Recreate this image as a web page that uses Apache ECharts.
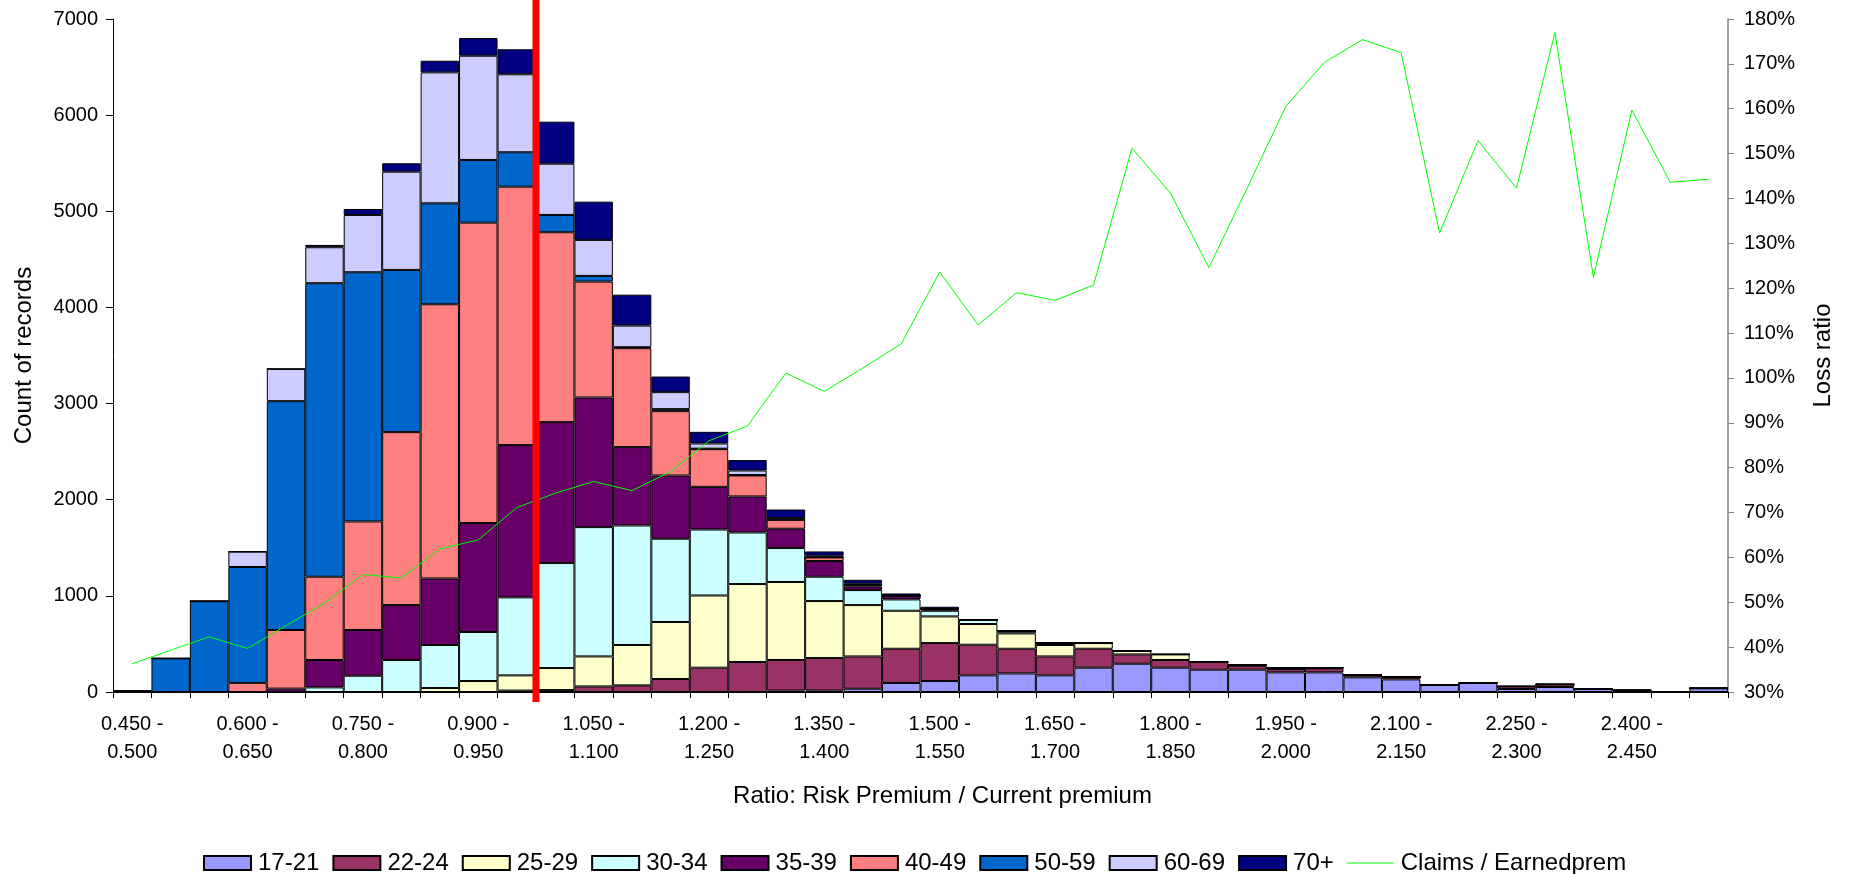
<!DOCTYPE html>
<html>
<head>
<meta charset="utf-8">
<script src="https://cdn.jsdelivr.net/npm/echarts@6/dist/echarts.min.js"></script>
<style>
html,body{margin:0;padding:0;background:#fff;}
#chart{width:1851px;height:874px;}
</style>
</head>
<body>
<div id="chart"></div>
<script>
const categories = [
  '0.450 -\n0.500','0.500 -\n0.550','0.550 -\n0.600','0.600 -\n0.650','0.650 -\n0.700','0.700 -\n0.750',
  '0.750 -\n0.800','0.800 -\n0.850','0.850 -\n0.900','0.900 -\n0.950','0.950 -\n1.000','1.000 -\n1.050',
  '1.050 -\n1.100','1.100 -\n1.150','1.150 -\n1.200','1.200 -\n1.250','1.250 -\n1.300','1.300 -\n1.350',
  '1.350 -\n1.400','1.400 -\n1.450','1.450 -\n1.500','1.500 -\n1.550','1.550 -\n1.600','1.600 -\n1.650',
  '1.650 -\n1.700','1.700 -\n1.750','1.750 -\n1.800','1.800 -\n1.850','1.850 -\n1.900','1.900 -\n1.950',
  '1.950 -\n2.000','2.000 -\n2.050','2.050 -\n2.100','2.100 -\n2.150','2.150 -\n2.200','2.200 -\n2.250',
  '2.250 -\n2.300','2.300 -\n2.350','2.350 -\n2.400','2.400 -\n2.450','2.450 -\n2.500','2.500 -\n2.550'
];

const age17_21 = [0,0,0,0,0,0,0,0,0,0,0,0,0,0,0,0,0,15,15,34,94,114,173,193,173,253,294,253,232,232,204,204,152,131,73,94,31,52,34,17,0,38];
const age22_24 = [0,0,0,0,0,0,0,0,0,0,15,20,58,69,135,253,312,318,338,336,356,395,319,257,197,197,97,80,80,41,35,42,28,25,0,0,27,27,0,0,0,0];
const age25_29 = [0,0,0,0,0,0,0,0,41,114,158,229,312,420,593,751,811,811,593,534,395,277,215,159,119,59,38,58,0,8,10,8,0,0,0,0,0,0,0,0,0,0];
const age30_34 = [0,0,0,0,0,48,169,333,448,510,811,1092,1345,1243,866,686,536,353,253,156,118,59,42,20,20,0,0,0,0,0,0,0,0,0,0,0,0,0,0,0,0,0];
const age35_39 = [0,0,0,0,35,285,476,571,692,1133,1584,1466,1348,815,658,444,375,201,163,38,38,18,0,8,0,0,0,0,0,0,0,0,0,0,0,0,0,0,0,0,0,0];
const age40_49 = [0,0,0,95,610,866,1129,1799,2852,3125,2688,1975,1206,1029,669,392,218,93,38,17,0,0,0,0,0,0,0,0,0,0,0,0,0,0,0,0,0,0,0,0,0,0];
const age50_59 = [15,350,945,1205,2380,3053,2592,1687,1050,652,358,180,59,10,21,5,5,0,0,0,0,0,0,0,0,0,0,0,0,0,0,0,0,0,0,0,0,0,0,0,0,0];
const age60_69 = [0,0,0,160,336,374,596,1022,1362,1084,811,533,374,225,177,54,47,18,17,12,0,0,0,0,0,0,0,0,0,0,0,0,0,0,0,0,0,0,0,0,0,0];
const age70p   = [0,0,0,0,0,24,62,87,121,184,260,437,398,322,162,121,108,89,45,40,24,24,0,0,0,0,0,0,0,0,0,0,0,0,0,0,0,0,0,0,0,0];

const lossRatio = [0.363,0.393,0.423,0.397,0.448,0.498,0.562,0.554,0.619,0.639,0.711,0.743,0.769,0.749,0.791,0.860,0.893,1.011,0.970,1.022,1.076,1.236,1.118,1.190,1.173,1.207,1.512,1.412,1.246,1.424,1.605,1.703,1.754,1.725,1.323,1.529,1.423,1.770,1.224,1.597,1.436,1.443];

const thresholdRatio = [1.0];
const ratioRange = [0.45, 2.55];

const countTicks = {min: 0, max: 7000, interval: 1000};
const ratioTicks = {min: 0.3, max: 1.8, interval: 0.1};

const barSeriesDefs = [
  {name: '17-21', data: age17_21, color: '#9999FF'},
  {name: '22-24', data: age22_24, color: '#993366'},
  {name: '25-29', data: age25_29, color: '#FFFFCC'},
  {name: '30-34', data: age30_34, color: '#CCFFFF'},
  {name: '35-39', data: age35_39, color: '#660066'},
  {name: '40-49', data: age40_49, color: '#FF8080'},
  {name: '50-59', data: age50_59, color: '#0066CC'},
  {name: '60-69', data: age60_69, color: '#CCCCFF'},
  {name: '70+',   data: age70p,   color: '#000080'}
];
const lineName = 'Claims / Earnedprem';

const FONT = '"Liberation Sans", Arial, sans-serif';

const chart = echarts.init(document.getElementById('chart'), null, {renderer: 'canvas'});

const series = barSeriesDefs.map(d => ({
  name: d.name,
  type: 'bar',
  stack: 'ages',
  data: d.data,
  barCategoryGap: '0%',
  barGap: '0%',
  itemStyle: {color: d.color, borderColor: '#000000', borderWidth: 1},
  emphasis: {disabled: true}
}));

series.push({
  name: lineName,
  type: 'line',
  yAxisIndex: 1,
  data: lossRatio,
  symbol: 'none',
  showSymbol: false,
  lineStyle: {color: '#00FF00', width: 1},
  itemStyle: {color: '#00FF00'},
  z: 5
});

series.push({
  name: 'threshold',
  type: 'custom',
  xAxisIndex: 1,
  yAxisIndex: 0,
  clip: false,
  z: 10,
  data: thresholdRatio.map(v => [v, 0]),
  renderItem: function (params, api) {
    const p = api.coord([api.value(0), 0]);
    const cs = params.coordSys;
    return {
      type: 'line',
      shape: {x1: p[0], y1: cs.y - 20, x2: p[0], y2: cs.y + cs.height + 10},
      style: {stroke: '#FF0000', lineWidth: 7}
    };
  }
});

const legendData = barSeriesDefs.map(d => ({name: d.name, icon: 'rect'}))
  .concat([{name: lineName, icon: 'path://M0,0L50,0L50,1.1L0,1.1Z', itemStyle: {color: '#00FF00', borderWidth: 0}}]);

const option = {
  animation: false,
  backgroundColor: '#ffffff',
  textStyle: {fontFamily: FONT, color: '#000'},
  grid: {left: 113, right: 123, top: 19, bottom: 182, containLabel: false},
  legend: {
    data: legendData,
    left: 198,
    top: 846,
    itemWidth: 47,
    itemHeight: 14,
    itemGap: 13,
    symbolKeepAspect: true,
    textStyle: {fontFamily: FONT, fontSize: 24, color: '#000', padding: [0, 0, 0, 2]}
  },
  xAxis: [
    {
      type: 'category',
      data: categories,
      boundaryGap: true,
      name: 'Ratio: Risk Premium / Current premium',
      nameLocation: 'middle',
      nameGap: 92,
      nameTextStyle: {fontFamily: FONT, fontSize: 24, color: '#000', padding: [0, 0, 0, 44]},
      axisLine: {show: true, lineStyle: {color: '#000', width: 1}},
      axisTick: {show: true, interval: 0, length: 6, inside: false, lineStyle: {color: '#000'}},
      axisLabel: {interval: 2, fontFamily: FONT, fontSize: 20, color: '#000', lineHeight: 28, margin: 18},
      splitLine: {show: false}
    },
    {
      type: 'value',
      min: ratioRange[0],
      max: ratioRange[1],
      show: false,
      splitLine: {show: false}
    }
  ],
  yAxis: [
    {
      type: 'value',
      min: countTicks.min,
      max: countTicks.max,
      interval: countTicks.interval,
      name: 'Count of records',
      nameLocation: 'middle',
      nameGap: 77,
      nameRotate: 90,
      nameTextStyle: {fontFamily: FONT, fontSize: 24, color: '#000'},
      axisLine: {show: true, lineStyle: {color: '#000', width: 1}},
      axisTick: {show: true, length: 7, inside: false, lineStyle: {color: '#000'}},
      axisLabel: {fontFamily: FONT, fontSize: 20, color: '#000', margin: 15,
        formatter: v => String(v)},
      splitLine: {show: false}
    },
    {
      type: 'value',
      position: 'right',
      min: ratioTicks.min,
      max: ratioTicks.max,
      interval: ratioTicks.interval,
      name: 'Loss ratio',
      nameLocation: 'middle',
      nameGap: 83,
      nameRotate: 90,
      nameTextStyle: {fontFamily: FONT, fontSize: 24, color: '#000'},
      axisLine: {show: true, lineStyle: {color: '#808080', width: 1.5}},
      axisTick: {show: true, length: 6, inside: false, lineStyle: {color: '#808080'}},
      axisLabel: {fontFamily: FONT, fontSize: 20, color: '#000', margin: 16,
        formatter: v => Math.round(v * 100) + '%'},
      splitLine: {show: false}
    }
  ],
  series: series
};

chart.setOption(option);
</script>
</body>
</html>
